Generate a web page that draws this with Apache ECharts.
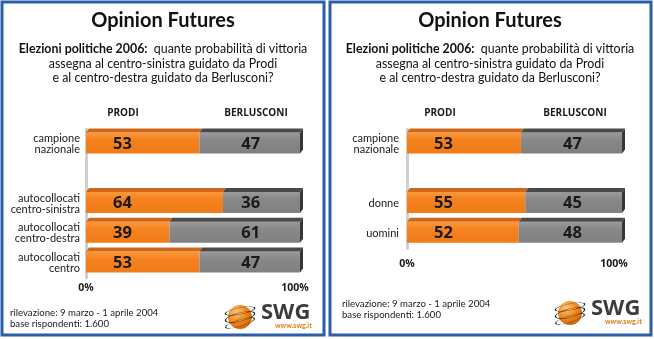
<!DOCTYPE html>
<html><head><meta charset="utf-8">
<script src="https://cdn.jsdelivr.net/npm/echarts@6/dist/echarts.min.js"></script>
<style>html,body{margin:0;padding:0;background:#fff}#c{width:654px;height:339px}</style>
</head><body><div id="c"></div>
<script>
// ---- data ----
const leftCategories = ['campione\nnazionale', '', 'autocollocati\ncentro-sinistra', 'autocollocati\ncentro-destra', 'autocollocati\ncentro'];
const leftProdi = [53, null, 64, 39, 53];
const leftBerlusconi = [47, null, 36, 61, 47];
const rightCategories = ['campione\nnazionale', '', 'donne', 'uomini'];
const rightProdi = [53, null, 55, 52];
const rightBerlusconi = [47, null, 45, 48];
const xTickValues = [0, 100];
const title = 'Opinion Futures';
const subtitleBold = 'Elezioni politiche 2006:';
const subtitleRest = '  quante probabilità di vittoria\nassegna al centro-sinistra guidato da Prodi\ne al centro-destra guidato da Berlusconi?';
const headerProdi = 'PRODI', headerBerl = 'BERLUSCONI';
const footer1 = 'rilevazione: 9 marzo - 1 aprile 2004';
const footer2 = 'base rispondenti: 1.600';

const FONT = 'Lato, "Open Sans", sans-serif';
const HEAVY = '"Open Sans", Lato, sans-serif';
const chart = echarts.init(document.getElementById('c'), null, {renderer: 'canvas'});

function buildData(p, b) {
  const out = [];
  p.forEach((v, i) => { if (v != null) out.push([i, v, b[i]]); });
  return out;
}

const PRODI_LABEL_AT = 17, BERL_LABEL_AT = 77;
function renderItem(params, api) {
  const cat = api.value(0), p = api.value(1), b = api.value(2);
  const s = api.coord([0, cat]), m = api.coord([p, cat]), e = api.coord([p + b, cat]);
  const h = 21, dx = 3, dy = 4;
  const y0 = s[1] - h / 2 - 1;
  const lp = api.coord([PRODI_LABEL_AT, cat]), lb = api.coord([BERL_LABEL_AT, cat]);
  return {
    type: 'group',
    children: [
      {type: 'rect', shape: {x: s[0], y: y0, width: m[0] - s[0], height: h},
       style: {fill: new echarts.graphic.LinearGradient(0, 0, 0, 1, [{offset: 0, color: '#fa9a3c'}, {offset: 0.35, color: '#f5821f'}, {offset: 1, color: '#f07c18'}])}},
      {type: 'polygon', shape: {points: [[s[0], y0], [s[0] + dx, y0 - dy], [m[0] + dx, y0 - dy], [m[0], y0]]},
       style: {fill: '#d0661a'}},
      {type: 'rect', shape: {x: m[0], y: y0, width: e[0] - m[0], height: h},
       style: {fill: new echarts.graphic.LinearGradient(0, 0, 0, 1, [{offset: 0, color: '#9a9a9a'}, {offset: 0.35, color: '#888888'}, {offset: 1, color: '#808080'}])}},
      {type: 'polygon', shape: {points: [[m[0], y0], [m[0] + dx, y0 - dy], [e[0] + dx, y0 - dy], [e[0], y0]]},
       style: {fill: '#4a4a4a'}},
      {type: 'polygon', shape: {points: [[e[0], y0], [e[0] + dx, y0 - dy], [e[0] + dx, y0 + h - dy], [e[0], y0 + h]]},
       style: {fill: '#363636'}},
      {type: 'text', style: {text: String(p), x: lp[0], y: y0 + h / 2 + 1, align: 'center', verticalAlign: 'middle',
       font: 'bold 16.5px ' + HEAVY, fill: '#1a1a1a'}},
      {type: 'text', style: {text: String(b), x: lb[0], y: y0 + h / 2 + 1, align: 'center', verticalAlign: 'middle',
       font: 'bold 16.5px ' + HEAVY, fill: '#1a1a1a'}}
    ]
  };
}

function xAxis(gi, margin, padR) {
  return {
    type: 'value', gridIndex: gi, min: xTickValues[0], max: xTickValues[1], interval: xTickValues[1] - xTickValues[0],
    axisLine: {show: false}, axisTick: {show: false}, splitLine: {show: false},
    axisLabel: {margin: margin, color: '#1a1a1a', fontFamily: HEAVY, fontWeight: 'bold', fontSize: 10.5,
      formatter: v => v === xTickValues[1] ? '{r|' + v + '%}' : v + '%',
      rich: {r: {fontFamily: HEAVY, fontWeight: 'bold', fontSize: 10.5, color: '#1a1a1a', padding: [0, padR, 0, 0]}}}
  };
}
function yAxis(gi, cats, margin) {
  return {
    type: 'category', gridIndex: gi, data: cats, inverse: true,
    axisLine: {show: true, lineStyle: {color: '#cfcfcf', width: 3}}, axisTick: {show: false},
    axisLabel: {margin: margin, color: '#1a1a1a', fontFamily: FONT, fontSize: 11, lineHeight: 11}
  };
}

function logo(x, y) {
  const ring = (rot, sy) => ({type: 'arc', shape: {cx: 0, cy: 0, r: 15, startAngle: 0, endAngle: Math.PI * 2},
    scaleY: sy, rotation: rot, style: {stroke: '#1a1a1a', lineWidth: 1.3, fill: null}});
  return {
    type: 'group', x: x, y: y, silent: true,
    children: [
      {type: 'circle', shape: {cx: 0, cy: 0, r: 12},
       style: {fill: new echarts.graphic.RadialGradient(0.35, 0.3, 0.8, [{offset: 0, color: '#fcc47a'}, {offset: 0.5, color: '#f28a1e'}, {offset: 1, color: '#c55d06'}])}},
      {type: 'group', children: [ring(0.25, 0.28)]},
      {type: 'group', y: -6, children: [ring(0.2, 0.22)]},
      {type: 'group', y: 6, children: [ring(0.3, 0.22)]},
      {type: 'text', style: {text: 'SWG', x: 21, y: -4, verticalAlign: 'middle', font: 'bold 22px ' + HEAVY, fill: '#3c3c3c'}},
      {type: 'text', style: {text: 'www.swg.it', x: 35, y: 9, verticalAlign: 'middle', font: 'bold 7px ' + FONT, fill: '#e07a10'}}
    ]
  };
}

function panelTexts(cx, hp, hb, fx, fy) {
  return [
    {type: 'text', style: {text: title, x: cx, y: 21, align: 'center', verticalAlign: 'middle', font: 'bold 20px ' + FONT, fill: '#111'}},
    {type: 'text', style: {text: '{b|' + subtitleBold + '}' + subtitleRest, x: cx, y: 42, align: 'center', font: '12.4px ' + FONT, fill: '#111', lineHeight: 14.5,
      rich: {b: {fontWeight: 'bold', fontSize: 12.4, fontFamily: FONT, fill: '#111', lineHeight: 14.5}}}},
    {type: 'text', style: {text: headerProdi, x: hp, y: 113, align: 'center', verticalAlign: 'middle', font: 'bold 10px ' + HEAVY, fill: '#1a1a1a'}},
    {type: 'text', style: {text: headerBerl, x: hb, y: 113, align: 'center', verticalAlign: 'middle', font: 'bold 10px ' + HEAVY, fill: '#1a1a1a'}},
    {type: 'text', style: {text: footer1 + '\n' + footer2, x: fx, y: fy, font: '9.6px ' + FONT, fill: '#1a1a1a', lineHeight: 11}}
  ];
}

chart.setOption({
  animation: false,
  backgroundColor: '#ffffff',
  grid: [
    {left: 86, top: 129, width: 214, height: 149},
    {left: 407, top: 129, width: 215, height: 119.2}
  ],
  xAxis: [xAxis(0, 5, 10), xAxis(1, 10, 16)],
  yAxis: [yAxis(0, leftCategories, 6), yAxis(1, rightCategories, 8)],
  series: [
    {type: 'custom', xAxisIndex: 0, yAxisIndex: 0, renderItem: renderItem, data: buildData(leftProdi, leftBerlusconi), encode: {x: [1, 2], y: 0}},
    {type: 'custom', xAxisIndex: 1, yAxisIndex: 1, renderItem: renderItem, data: buildData(rightProdi, rightBerlusconi), encode: {x: [1, 2], y: 0}}
  ],
  graphic: [
    {type: 'rect', shape: {x: 2, y: 2, width: 322, height: 333}, style: {fill: null, stroke: '#2b5ea7', lineWidth: 3}},
    {type: 'rect', shape: {x: 330, y: 2, width: 321, height: 333}, style: {fill: null, stroke: '#2b5ea7', lineWidth: 3}},
    ...panelTexts(163, 123, 256, 10, 307),
    ...panelTexts(490, 440, 575, 342, 298),
    logo(240, 317),
    logo(570, 313)
  ]
});
</script></body></html>
